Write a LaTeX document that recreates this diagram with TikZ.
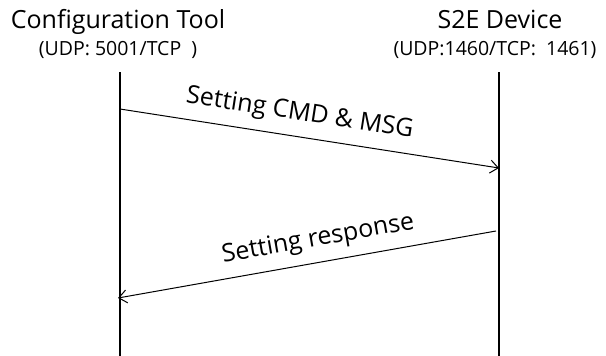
\documentclass[tikz,border=0pt]{standalone}
\usepackage{fontspec}
\setmainfont{Open Sans}
\usetikzlibrary{arrows.meta,positioning}

\begin{document}
\begin{tikzpicture}[x=1pt,y=-1pt,
	head/.style={font=\fontsize{25}{28}\selectfont,anchor=base,inner sep=0pt},
	port/.style={font=\fontsize{19.5}{22}\selectfont,anchor=base,inner sep=0pt},
	msg/.style={-{Straight Barb[length=8pt,width=13pt]},line width=1pt},
	msgtext/.style={font=\fontsize{25}{28}\selectfont,sloped,above,inner sep=10pt}]
	
	\useasboundingbox (0,0) rectangle (606,356);
	
	\node[head] (tool) at (118,28) {Configuration Tool};
	\node[port] (toolport) at (118,55) {(UDP: 5001/TCP\ \ )};
	\node[head] (dev) at (500,28) {S2E Device};
	\node[port] (devport) at (495,55) {(UDP:1460/TCP:\ \ 1461)};
	
	\coordinate (tooltop) at (120,72);
	\coordinate (toolbot) at (120,356);
	\coordinate (devtop) at (499,72);
	\coordinate (devbot) at (499,356);
	
	\draw[line width=1.3pt] (tooltop) -- (toolbot);
	\draw[line width=1.3pt] (devtop) -- (devbot);
	
	\coordinate (cmdfrom) at (120,109);
	\coordinate (cmdto) at (499,168);
	\coordinate (respfrom) at (496,231);
	\coordinate (respto) at (118,298);
	
	\draw[msg] (cmdfrom) -- node[msgtext,pos=.465] {Setting CMD \& MSG} (cmdto);
	\draw[msg] (respfrom) -- node[msgtext,pos=.46] {Setting response} (respto);
	
\end{tikzpicture}
\end{document}
